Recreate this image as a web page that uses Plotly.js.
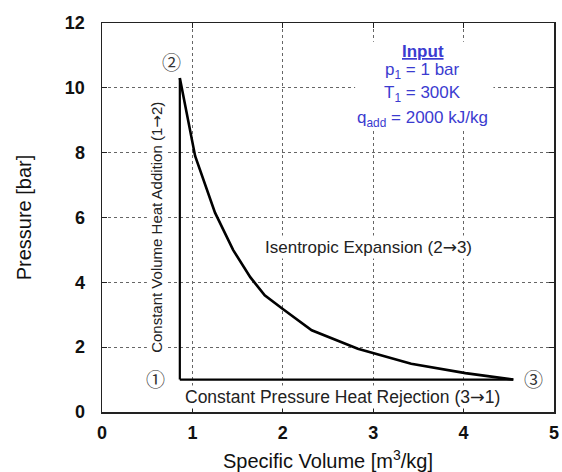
<!DOCTYPE html>
<html>
<head>
<meta charset="utf-8">
<script src="https://cdn.plot.ly/plotly-3.0.1.min.js"></script>
<style>html,body{margin:0;padding:0;background:#fff;}#chart{width:562px;height:472px;}</style>
</head>
<body>
<div id="chart"></div>
<script>
// Process 1 -> 2 : constant volume heat addition
const addV = [0.861, 0.861];
const addP = [1.0, 10.3];
// Process 2 -> 3 : isentropic expansion
const expV = [0.861, 1.03, 1.25, 1.45, 1.64, 1.80, 2.00, 2.32, 2.83, 3.42, 4.02, 4.55];
const expP = [10.3, 7.9, 6.15, 5.0, 4.16, 3.6, 3.18, 2.52, 1.95, 1.49, 1.2, 1.0];
// Process 3 -> 1 : constant pressure heat rejection
const rejV = [4.55, 0.861];
const rejP = [1.0, 1.0];

const xTicks = [0, 1, 2, 3, 4, 5];
const yTicks = [0, 2, 4, 6, 8, 10, 12];

const stateLabels = ['\u2460', '\u2461', '\u2462'];
const stateX = [0.594, 0.772, 4.77];
const stateY = [1.03, 10.8, 1.03];

const inputLines = ['<b><u>Input</u></b>', 'p<sub>1</sub> = 1 bar', 'T<sub>1</sub> = 300K', 'q<sub>add</sub> = 2000 kJ/kg'];
const inputY = [11.12, 10.53, 9.81, 9.04];

const ARROW = a => '<span style="font-family:DejaVu Sans">' + a + '</span>';

const lineStyle = {color: '#000', width: 2.6};
const traces = [
  {x: addV, y: addP, mode: 'lines', line: {color: '#000', width: 2.2}, hoverinfo: 'skip'},
  {x: expV, y: expP, mode: 'lines', line: lineStyle, hoverinfo: 'skip'},
  {x: rejV, y: rejP, mode: 'lines', line: {color: '#000', width: 2.2}, hoverinfo: 'skip'}
];

const ann = [];
stateLabels.forEach((t, i) => ann.push({x: stateX[i], y: stateY[i], text: t, showarrow: false,
  font: {family: 'Noto Sans CJK JP', size: 19, color: '#333'}}));
inputLines.forEach((t, i) => ann.push({x: 3.55, y: inputY[i], text: t, showarrow: false,
  font: {family: 'Liberation Sans', size: 17, color: '#3b3bd0'}}));
ann.push({x: 0.615, y: 5.7, text: 'Constant Volume Heat Addition (1' + ARROW('\u2192') + '2)', textangle: -90, showarrow: false,
  bgcolor: '#fff', font: {family: 'Liberation Sans', size: 15, color: '#222'}});
ann.push({x: 2.95, y: 5.1, text: 'Isentropic Expansion (2' + ARROW('\u2192') + '3)', showarrow: false,
  bgcolor: '#fff', font: {family: 'Liberation Sans', size: 17, color: '#222'}});
ann.push({x: 2.66, y: 0.46, text: 'Constant Pressure Heat Rejection (3' + ARROW('\u2192') + '1)', showarrow: false,
  bgcolor: '#fff', font: {family: 'Liberation Sans', size: 17.5, color: '#222'}});

const shapes = [
  {type: 'rect', xref: 'x', yref: 'y', x0: 2.80, x1: 4.33, y0: 8.7, y1: 11.42,
   fillcolor: '#fff', line: {width: 0}, layer: 'between'}
];

const axisCommon = {
  showline: true, linecolor: '#222', linewidth: 1.5, mirror: 'ticks',
  ticks: 'inside', ticklen: 5, tickcolor: '#222', tickwidth: 1,
  showgrid: true, gridcolor: '#666', gridwidth: 1, griddash: 'dot',
  zeroline: false,
  tickfont: {family: 'Liberation Sans', size: 18, color: '#111', weight: 'bold'}
};

const layout = {
  width: 562, height: 472,
  margin: {l: 102, r: 8, t: 23, b: 60},
  paper_bgcolor: '#fff', plot_bgcolor: '#fff',
  showlegend: false,
  xaxis: Object.assign({}, axisCommon, {
    range: [0, 5], tickvals: xTicks, ticktext: xTicks.map(String),
    ticklabelstandoff: 4,
    title: {text: 'Specific Volume [m<sup>3</sup>/kg]', standoff: 14,
      font: {family: 'Liberation Sans', size: 20, color: '#111'}}
  }),
  yaxis: Object.assign({}, axisCommon, {
    range: [0, 12], tickvals: yTicks, ticktext: yTicks.map(String),
    ticklabelstandoff: 12,
    title: {text: 'Pressure [bar]', standoff: 28,
      font: {family: 'Liberation Sans', size: 20, color: '#111'}}
  }),
  shapes: shapes,
  annotations: ann
};

Plotly.newPlot('chart', traces, layout, {staticPlot: true, displayModeBar: false});
</script>
</body>
</html>
